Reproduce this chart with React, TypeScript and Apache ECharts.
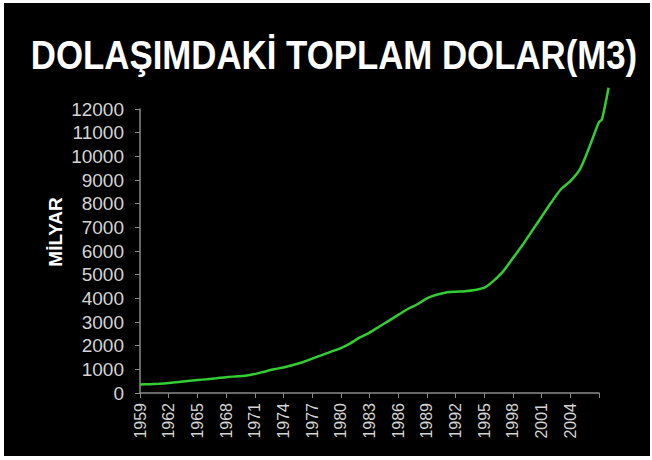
import React, { useEffect, useRef } from "react";
import * as echarts from "echarts";

const TITLE = "DOLAŞIMDAKİ TOPLAM DOLAR(M3)";
const Y_NAME = "MİLYAR";

const years = [
  1959, 1960, 1961, 1962, 1963, 1964, 1965, 1966, 1967, 1968,
  1969, 1970, 1971, 1972, 1973, 1974, 1975, 1976, 1977, 1978,
  1979, 1980, 1981, 1982, 1983, 1984, 1985, 1986, 1987, 1988,
  1989, 1990, 1991, 1992, 1993, 1994, 1995, 1996, 1997, 1998,
  1999, 2000, 2001, 2002, 2003, 2004, 2005, 2006, 2007, 2007.3, 2008,
];

const m3Values = [
  360, 370, 390, 420, 460, 510, 550, 580, 620, 670,
  700, 730, 800, 900, 1000, 1080, 1180, 1300, 1450, 1600,
  1750, 1900, 2100, 2350, 2550, 2800, 3050, 3300, 3550, 3750,
  4000, 4150, 4250, 4280, 4300, 4350, 4450, 4750, 5150, 5700,
  6250, 6850, 7450, 8050, 8600, 8950, 9450, 10400, 11450, 11550, 12900,
];

const xMin = 1959;
const xMax = 2007;
const xDataMax = 2008;
const xStep = 3;
const yMin = 0;
const yMax = 12000;
const yStep = 1000;

export default function App() {
  const ref = useRef<HTMLDivElement>(null);

  useEffect(() => {
    if (!ref.current) return;
    const chart = echarts.init(ref.current, null, { renderer: "svg" });
    const labelColor = "#d4d4d4";
    const axisColor = "#8a8a8a";
    const left = 136;
    const right = 51;
    const plotW = 646 - left - right;
    const pxPerYear = plotW / (xMax - xMin);
    const dataRight = right - pxPerYear * (xDataMax - xMax);
    chart.setOption({
      animation: false,
      backgroundColor: "#000",
      textStyle: { fontFamily: "Liberation Sans, Arial, sans-serif" },
      grid: [
        { left, right, top: 106, bottom: 63, containLabel: false },
        { left, right: dataRight, top: 106, bottom: 63, containLabel: false },
      ],
      graphic: [
        {
          type: "text",
          x: 330,
          y: 52,
          scaleX: 0.87,
          style: {
            text: TITLE,
            font: "bold 40px 'Liberation Sans', Arial, sans-serif",
            fill: "#ffffff",
            align: "center",
            verticalAlign: "middle",
          },
        },
        {
          type: "text",
          x: 51,
          y: 229,
          rotation: Math.PI / 2,
          style: {
            text: Y_NAME,
            font: "bold 19px 'Liberation Sans', Arial, sans-serif",
            fill: "#ffffff",
            align: "center",
            verticalAlign: "middle",
          },
        },
      ],
      xAxis: [
        {
          type: "value",
          gridIndex: 0,
          min: xMin,
          max: xMax,
          interval: xStep,
          splitLine: { show: false },
          axisLine: { show: true, lineStyle: { color: axisColor, width: 1.5 } },
          axisTick: { show: true, length: 5, lineStyle: { color: axisColor } },
          axisLabel: {
            rotate: 90,
            margin: 10,
            color: labelColor,
            fontSize: 16,
            fontFamily: "Liberation Sans, Arial, sans-serif",
            formatter: (v: number) => (v >= xMax ? "" : String(v)),
          },
        },
        {
          type: "value",
          gridIndex: 1,
          min: xMin,
          max: xDataMax,
          show: false,
        },
      ],
      yAxis: [
        {
          type: "value",
          gridIndex: 0,
          min: yMin,
          max: yMax,
          interval: yStep,
          splitLine: { show: false },
          axisLine: { show: true, lineStyle: { color: axisColor, width: 1.5 } },
          axisTick: { show: true, length: 5, lineStyle: { color: axisColor } },
          axisLabel: {
            margin: 16,
            color: labelColor,
            fontSize: 19,
            fontFamily: "Liberation Sans, Arial, sans-serif",
            formatter: (v: number) => String(v),
          },
        },
        {
          type: "value",
          gridIndex: 1,
          min: yMin,
          max: yMax,
          show: false,
        },
      ],
      series: [
        {
          type: "line",
          xAxisIndex: 1,
          yAxisIndex: 1,
          data: years.map((y, i) => [y, m3Values[i]]),
          showSymbol: false,
          clip: false,
          smooth: 0.25,
          lineStyle: { color: "#33cc33", width: 2.5 },
        },
      ],
    });
    return () => chart.dispose();
  }, []);

  return (
    <div
      style={{
        position: "absolute",
        left: 0,
        top: 0,
        width: 652,
        height: 460,
        background: "#fff",
      }}
    >
      <div
        ref={ref}
        style={{ position: "absolute", left: 4, top: 3, width: 646, height: 453 }}
      />
    </div>
  );
}
